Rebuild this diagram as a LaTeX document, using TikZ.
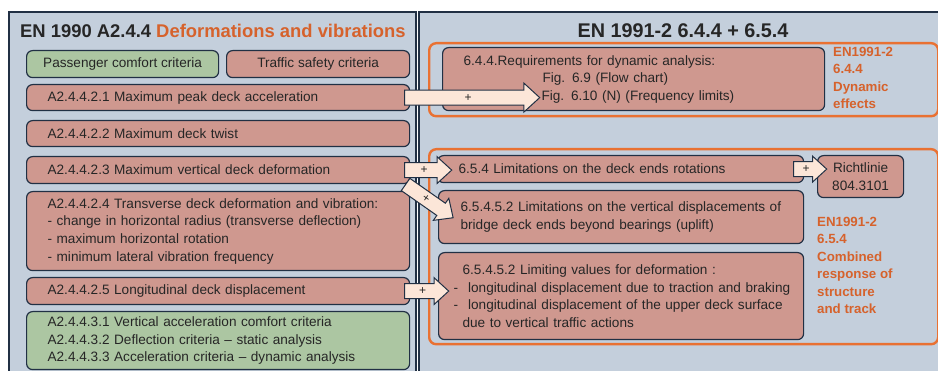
\documentclass[tikz,border=0pt]{standalone}
\usepackage{fontspec}
\setmainfont{Liberation Sans}
\usetikzlibrary{shapes.arrows, positioning, calc}
\definecolor{panelfill}{RGB}{196,207,220}
\definecolor{panelline}{RGB}{33,48,68}
\definecolor{boxred}{RGB}{207,152,143}
\definecolor{boxgreen}{RGB}{172,198,162}
\definecolor{arrowfill}{RGB}{252,230,216}
\definecolor{framecol}{RGB}{233,113,50}
\definecolor{labelcol}{RGB}{214,98,44}
\definecolor{txtcol}{RGB}{38,38,38}
\tikzset{
  panel/.style={rectangle,draw=panelline,fill=panelfill,line width=1.4pt},
  basebox/.style={rectangle,rounded corners=6pt,draw=panelline,line width=1.2pt,text=txtcol,
    font=\fontsize{13.6}{17.6}\selectfont,inner xsep=21pt,inner ysep=0pt,anchor=north west},
  redbox/.style={basebox,fill=boxred},
  greenbox/.style={basebox,fill=boxgreen},
  framebox/.style={rectangle,rounded corners=7pt,draw=framecol,line width=2.4pt,anchor=north west},
  sidelabel/.style={text=labelcol,font=\fontsize{13.3}{17.4}\selectfont\bfseries,align=left,
    anchor=north west,inner sep=0pt},
  headtxt/.style={text=txtcol,font=\fontsize{18.4}{22}\selectfont\bfseries,inner sep=0pt},
  fatarr/.style={single arrow,draw=panelline,fill=arrowfill,line width=1pt,inner xsep=0pt,
    inner ysep=3.5pt,single arrow head indent=0pt,single arrow tip angle=85,text=txtcol,
    font=\fontsize{12}{12}\selectfont,anchor=tail}
}

\begin{document}
\begin{tikzpicture}[x=1pt,y=-1pt]
  \clip (0,0) rectangle (938,371);
  \fill[white] (0,0) rectangle (938,371);

  % two panels
  \draw[panel] (9,12) rectangle (416,380);
  \draw[panel] (419,12) rectangle (948,380);

  \node[headtxt,anchor=base west] (hdrL) at (20,38)
      {EN 1990 A2.4.4 \textcolor{labelcol}{Deformations and vibrations}};
  \node[headtxt,anchor=base,font=\fontsize{19.8}{22}\selectfont\bfseries] (hdrR) at (683,38)
      {EN 1991-2 6.4.4 + 6.5.4};

  % EN 1990 side
  \node[greenbox,inner xsep=0pt,minimum width=192pt,minimum height=27pt] (comfort) at (26,50)
      {Passenger comfort criteria};
  \node[redbox,inner xsep=0pt,minimum width=183pt,minimum height=27pt] (safety) at (226,50)
      {Traffic safety criteria};
  \node[redbox,minimum width=383pt,text width=341pt,minimum height=26pt] (p21) at (26,84)
      {A2.4.4.2.1 Maximum peak deck acceleration};
  \node[redbox,minimum width=383pt,text width=341pt,minimum height=26pt] (p22) at (26,120)
      {A2.4.4.2.2 Maximum deck twist};
  \node[redbox,minimum width=383pt,text width=341pt,minimum height=27pt] (p23) at (26,156)
      {A2.4.4.2.3 Maximum vertical deck deformation};
  \node[redbox,minimum width=383pt,text width=341pt,minimum height=79pt,align=left] (p24) at (26,191)
      {A2.4.4.2.4 Transverse deck deformation and vibration:\\
       - change in horizontal radius (transverse deflection)\\
       - maximum horizontal rotation\\
       - minimum lateral vibration frequency};
  \node[redbox,minimum width=383pt,text width=341pt,minimum height=27pt] (p25) at (26,277)
      {A2.4.4.2.5 Longitudinal deck displacement};
  \node[greenbox,minimum width=383pt,text width=341pt,minimum height=58pt,align=left] (p3) at (26,311)
      {A2.4.4.3.1 Vertical acceleration comfort criteria\\
       A2.4.4.3.2 Deflection criteria -- static analysis\\
       A2.4.4.3.3 Acceleration criteria -- dynamic analysis};

  % EN 1991-2 side
  \node[framebox,minimum width=509pt,minimum height=73pt] (frDyn) at (428,42) {};
  \node[framebox,minimum width=509pt,minimum height=195pt] (frComb) at (428,148) {};

  \node[redbox,minimum width=382pt,text width=340pt,minimum height=63pt,align=left] (dyn) at (442,47)
      {6.4.4.Requirements for dynamic analysis:\\
       \hspace*{79pt}Fig. 6.9 (Flow chart)\\
       \hspace*{78pt}Fig. 6.10 (N) (Frequency limits)};
  \node[redbox,minimum width=366pt,text width=324pt,minimum height=27pt] (rot) at (437,155)
      {6.5.4 Limitations on the deck ends rotations};
  \node[redbox,inner xsep=0pt,minimum width=86pt,minimum height=42pt,align=center] (richt) at (817,155)
      {Richtlinie\\804.3101};
  \node[redbox,inner xsep=22pt,minimum width=365pt,text width=321pt,minimum height=53pt,align=left] (upl) at (438,190)
      {6.5.4.5.2 Limitations on the vertical displacements of\\
       bridge deck ends beyond bearings (uplift)};
  \node[redbox,inner xsep=10pt,minimum width=365pt,text width=345pt,minimum height=87pt,align=left] (lim) at (438,252)
      {\hspace*{14pt}6.5.4.5.2 Limiting values for deformation :\\
       \hspace*{5pt}-\hspace*{10pt}longitudinal displacement due to traction and braking\\
       \hspace*{5pt}-\hspace*{10pt}longitudinal displacement of the upper deck surface\\
       \hspace*{14pt}due to vertical traffic actions};

  \node[sidelabel] (labDyn) at (833,47) {EN1991-2\\6.4.4\\Dynamic\\effects};
  \node[sidelabel] (labComb) at (817,217)
      {EN1991-2\\6.5.4\\Combined\\response of\\structure\\and track};

  % block arrows
  \node[fatarr,minimum height=135pt,minimum width=27pt,single arrow head extend=7pt]
      (ar21) at ([xshift=-6pt]p21.east) {+};
  \node[fatarr,minimum height=47pt,minimum width=24pt,single arrow head extend=6pt]
      (ar23) at ([xshift=-6pt]p23.east) {+};
  \node[fatarr,minimum height=58pt,minimum width=26pt,single arrow head extend=6pt,rotate=-35]
      (ar23b) at ([xshift=-5pt,yshift=0pt]p23.south east) {+};
  \node[fatarr,minimum height=33pt,minimum width=23pt,single arrow head extend=5.5pt]
      (arRot) at ([xshift=-11pt]rot.east) {+};
  \node[fatarr,minimum height=44pt,minimum width=24pt,single arrow head extend=6pt]
      (ar25) at ([xshift=-6pt]p25.east) {+};
\end{tikzpicture}
\end{document}
